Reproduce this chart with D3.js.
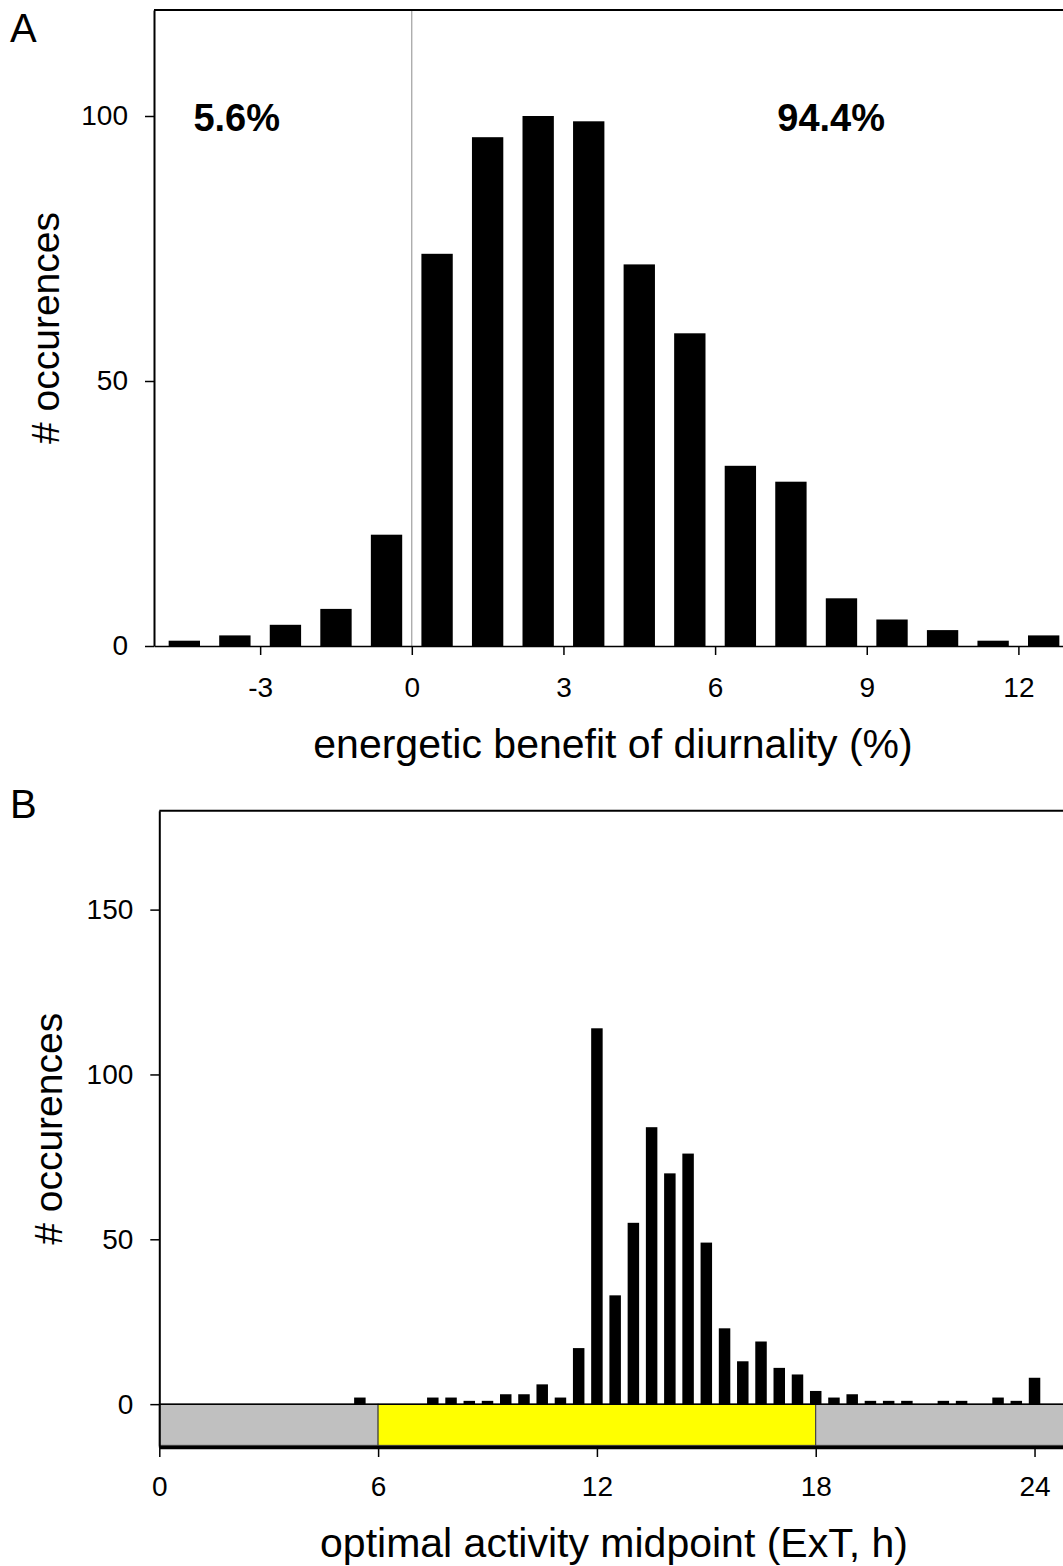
<!DOCTYPE html>
<html>
<head>
<meta charset="utf-8">
<script src="https://cdn.jsdelivr.net/npm/d3@7"></script>
<style>
  body { margin: 0; background: #fff; }
  text { font-family: "Liberation Sans", Arial, sans-serif; fill: #000; }
</style>
</head>
<body>
<script>
// panel A: energetic benefit histogram (bin centres, counts)
let benefitBins = [-4.5, -3.5, -2.5, -1.5, -0.5, 0.5, 1.5, 2.5, 3.5, 4.5, 5.5, 6.5, 7.5, 8.5, 9.5, 10.5, 11.5, 12.5];
let benefitCounts = [1, 2, 4, 7, 21, 74, 96, 100, 99, 72, 59, 34, 31, 9, 5, 3, 1, 2];
let benefitTicks = [-3, 0, 3, 6, 9, 12];
let countTicksA = [0, 50, 100];
let shareLabels = ['5.6%', '94.4%'];

// panel B: optimal activity midpoint histogram
let midpointBins = [5.5, 7.5, 8, 8.5, 9, 9.5, 10, 10.5, 11, 11.5,
  12, 12.5, 13, 13.5, 14, 14.5, 15, 15.5, 16, 16.5, 17, 17.5, 18, 18.5, 19, 19.5, 20, 20.5,
  21.5, 22, 23, 23.5, 24];
let midpointCounts = [2, 2, 2, 1, 1, 3, 3, 6, 2, 17,
  114, 33, 55, 84, 70, 76, 49, 23, 13, 19, 11, 9, 4, 2, 3, 1, 1, 1,
  1, 1, 2, 1, 8];
let hourTicks = [0, 6, 12, 18, 24];
let countTicksB = [0, 50, 100, 150];
let phaseStart = [0, 6, 18];
let phaseEnd = [6, 18, 25];

let svg = d3.select('body')
  .append('svg')
  .attr("width", 1063)
  .attr("height", 1566);

let phaseColors = ['#c0c0c0', '#ffff00', '#c0c0c0'];

drawPanelA();
drawPanelB();

function styleTicks(g, size) {
  g.selectAll('.tick line').attr('stroke', '#000').attr('stroke-width', 1.5);
  g.selectAll('.tick text').style('font-size', size + 'px');
}

function drawPanelA() {
  let x = d3.scaleLinear().domain([-5.1, 13.1]).range([154, 1074]);
  let y = d3.scaleLinear().domain([0, 120]).range([646, 10]);
  let barW = x(0.62) - x(0);

  svg.append('text')
    .attr('x', 10).attr('y', 42)
    .style('font-size', '40px')
    .text('A');

  // zero line
  svg.append('line')
    .attr('x1', x(0)).attr('x2', x(0))
    .attr('y1', y(120)).attr('y2', y(0))
    .attr('stroke', '#8c8c8c')
    .attr('stroke-width', 1);

  svg.append('g').selectAll('rect')
    .data(benefitBins)
    .join('rect')
    .attr('x', (d, i) => x(d) - barW / 2)
    .attr('y', (d, i) => y(benefitCounts[i]))
    .attr('width', barW)
    .attr('height', (d, i) => y(0) - y(benefitCounts[i]))
    .attr('fill', '#000');

  // top frame
  svg.append('line')
    .attr('x1', x(-5.1)).attr('x2', 1063)
    .attr('y1', y(120)).attr('y2', y(120))
    .attr('stroke', '#000').attr('stroke-width', 2);

  let yAxis = svg.append('g')
    .attr('transform', `translate(${x(-5.1)},0)`)
    .call(d3.axisLeft(y).tickValues(countTicksA).tickSize(9).tickPadding(17).tickSizeOuter(0));
  yAxis.select('.domain').attr('stroke-width', 2);
  styleTicks(yAxis, 28);

  let xAxis = svg.append('g')
    .attr('transform', `translate(0,${y(0)})`)
    .call(d3.axisBottom(x).tickValues(benefitTicks).tickFormat(d => String(d))
      .tickSize(9).tickPadding(22).tickSizeOuter(0));
  xAxis.select('.domain').attr('stroke-width', 1.5);
  styleTicks(xAxis, 28);

  svg.append('text')
    .attr('x', x(-4.32)).attr('y', y(97.2))
    .style('font-size', '38px').style('font-weight', 'bold')
    .text(shareLabels[0]);
  svg.append('text')
    .attr('x', x(7.23)).attr('y', y(97.2))
    .style('font-size', '38px').style('font-weight', 'bold')
    .text(shareLabels[1]);

  svg.append('text')
    .attr('x', 613).attr('y', 758)
    .attr('text-anchor', 'middle')
    .style('font-size', '41px')
    .text('energetic benefit of diurnality (%)');

  svg.append('text')
    .attr('transform', `translate(59,${(y(0) + y(120)) / 2}) rotate(-90)`)
    .attr('text-anchor', 'middle')
    .style('font-size', '39px')
    .text('# occurences');
}

function drawPanelB() {
  let x = d3.scaleLinear().domain([0, 25]).range([159.3, 1071]);
  let y = d3.scaleLinear().domain([-13, 180]).range([1447, 810.7]);
  let barW = x(0.315) - x(0);

  svg.append('text')
    .attr('x', 10).attr('y', 818)
    .style('font-size', '40px')
    .text('B');

  // light / dark phases under the bars
  svg.append('g').selectAll('rect')
    .data(phaseStart)
    .join('rect')
    .attr('x', (d, i) => x(d))
    .attr('y', y(0))
    .attr('width', (d, i) => x(phaseEnd[i]) - x(d))
    .attr('height', y(-12.5) - y(0))
    .attr('fill', (d, i) => phaseColors[i])
    .attr('stroke', '#3a3a3a')
    .attr('stroke-width', 1);

  svg.append('line')
    .attr('x1', x(0)).attr('x2', 1063)
    .attr('y1', y(0)).attr('y2', y(0))
    .attr('stroke', '#000').attr('stroke-width', 1.5);

  svg.append('g').selectAll('rect')
    .data(midpointBins)
    .join('rect')
    .attr('x', d => x(d) - barW / 2)
    .attr('y', (d, i) => y(midpointCounts[i]))
    .attr('width', barW)
    .attr('height', (d, i) => y(0) - y(midpointCounts[i]))
    .attr('fill', '#000');

  svg.append('line')
    .attr('x1', x(0)).attr('x2', 1063)
    .attr('y1', y(180)).attr('y2', y(180))
    .attr('stroke', '#000').attr('stroke-width', 2);

  let yAxis = svg.append('g')
    .attr('transform', `translate(${x(0)},0)`)
    .call(d3.axisLeft(y).tickValues(countTicksB).tickSize(9).tickPadding(17).tickSizeOuter(0));
  yAxis.select('.domain').attr('stroke-width', 2);
  styleTicks(yAxis, 28);

  let xAxis = svg.append('g')
    .attr('transform', `translate(0,${y(-13)})`)
    .call(d3.axisBottom(x).tickValues(hourTicks).tickSize(10).tickPadding(19).tickSizeOuter(0));
  xAxis.select('.domain').attr('stroke-width', 3.5);
  styleTicks(xAxis, 28);

  svg.append('text')
    .attr('x', 614).attr('y', 1557)
    .attr('text-anchor', 'middle')
    .style('font-size', '41px')
    .text('optimal activity midpoint (ExT, h)');

  svg.append('text')
    .attr('transform', `translate(62,${(y(-13) + y(180)) / 2}) rotate(-90)`)
    .attr('text-anchor', 'middle')
    .style('font-size', '39px')
    .text('# occurences');
}
</script>
</body>
</html>
